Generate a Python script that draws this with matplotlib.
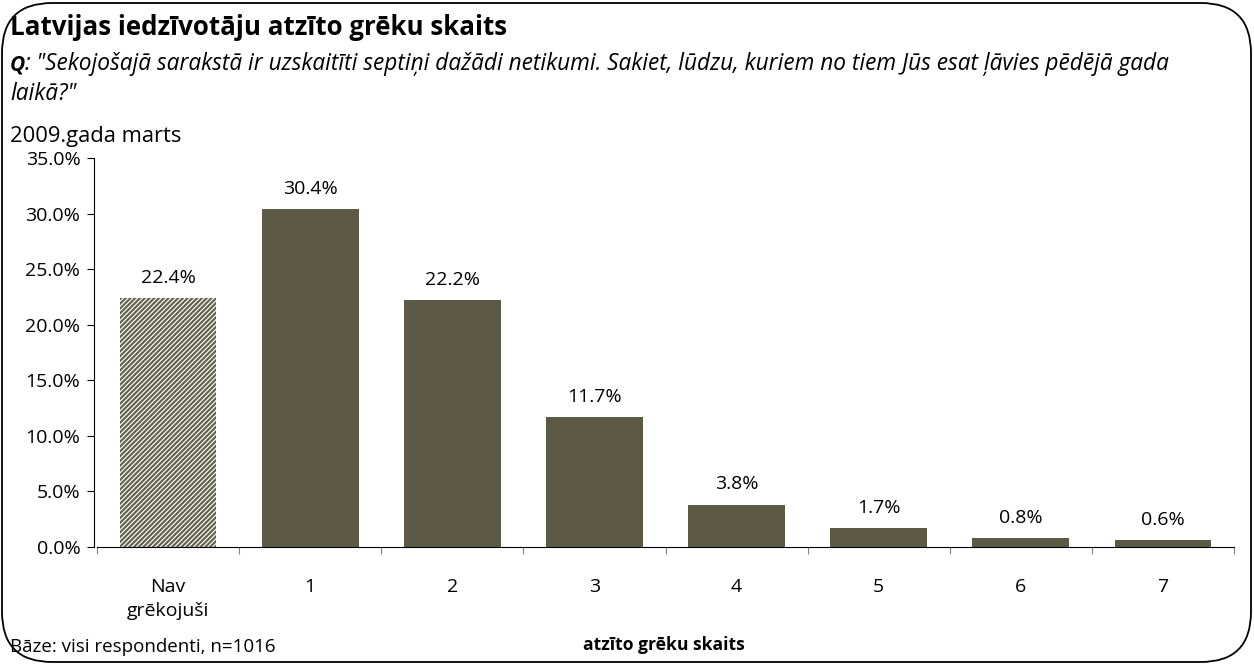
import matplotlib
matplotlib.use('Agg')
import matplotlib.pyplot as plt
from matplotlib.patches import FancyBboxPatch
from matplotlib.ticker import FuncFormatter

plt.rcParams['font.family'] = ['Open Sans', 'DejaVu Sans']
plt.rcParams['hatch.linewidth'] = 1.6

# data
categories = ['Nav\ngrēkojuši', '1', '2', '3', '4', '5', '6', '7']
values = [22.4, 30.4, 22.2, 11.7, 3.8, 1.7, 0.8, 0.6]

bar_color = '#5c5a44'
hatch_color = '#66644f'

fig = plt.figure(figsize=(12.54, 6.64), dpi=100)
W, H = 1254, 664

# rounded frame around the whole chart
frame = FancyBboxPatch((2 / W, 2 / H), 1 - 5 / W, 1 - 5 / H,
                       boxstyle='round,pad=0,rounding_size=0.04',
                       transform=fig.transFigure, fill=False,
                       edgecolor='black', linewidth=1.3, mutation_aspect=W / H)
fig.patches.append(frame)

ax = fig.add_axes([97 / W, 1 - 547 / H, (1234 - 97) / W, (547 - 158) / H])
x = list(range(len(categories)))
bars = ax.bar(x, values, width=0.68, color=bar_color, zorder=2)
bars[0].set_facecolor('white')
bars[0].set_edgecolor(hatch_color)
bars[0].set_hatch('/' * 7)
bars[0].set_linewidth(0)

for xi, v in zip(x, values):
    ax.annotate(f'{v:.1f}%', (xi, v), xytext=(0, 11), textcoords='offset points',
                ha='center', va='baseline', fontsize=14)

ax.set_xlim(-0.5, len(categories) - 0.5)
ax.set_ylim(0, 35)
ax.set_yticks([0, 5, 10, 15, 20, 25, 30, 35])
ax.yaxis.set_major_formatter(FuncFormatter(lambda v, p: f'{v:.1f}%'))
ax.set_xticks([i - 0.5 for i in range(len(categories) + 1)])
ax.set_xticklabels([])
ax.set_xticks(x, minor=True)
ax.set_xticklabels(categories, minor=True, fontsize=14, linespacing=1.45)
ax.tick_params(axis='x', which='minor', length=0, pad=22)
ax.tick_params(axis='x', which='major', length=5, color='#808080')
ax.tick_params(axis='y', length=5, labelsize=14, pad=5)
for s in ['top', 'right']:
    ax.spines[s].set_visible(False)
ax.spines['left'].set_position(('outward', 2))

fig.text(10 / W, 1 - 35 / H, 'Latvijas iedzīvotāju atzīto grēku skaits',
         fontsize=18.6, fontweight='bold', va='baseline')
fig.text(10 / W, 1 - 70 / H, 'Q', fontsize=15, fontweight='bold',
         style='italic', va='baseline')
fig.text(25 / W, 1 - 70 / H,
         ': "Sekojošajā sarakstā ir uzskaitīti septiņi dažādi netikumi. Sakiet, lūdzu, kuriem no tiem Jūs esat ļāvies pēdējā gada',
         fontsize=16.3, style='italic', va='baseline')
fig.text(10 / W, 1 - 100 / H, 'laikā?"', fontsize=16.3, style='italic', va='baseline')
fig.text(10 / W, 1 - 142 / H, '2009.gada marts', fontsize=15.8, va='baseline')
fig.text(10 / W, 1 - 652 / H, 'Bāze: visi respondenti, n=1016', fontsize=13.5, va='baseline')
fig.text(664 / W, 1 - 650 / H, 'atzīto grēku skaits', fontsize=12.6,
         fontweight='bold', va='baseline', ha='center')

fig.savefig('out.png', dpi=100)
